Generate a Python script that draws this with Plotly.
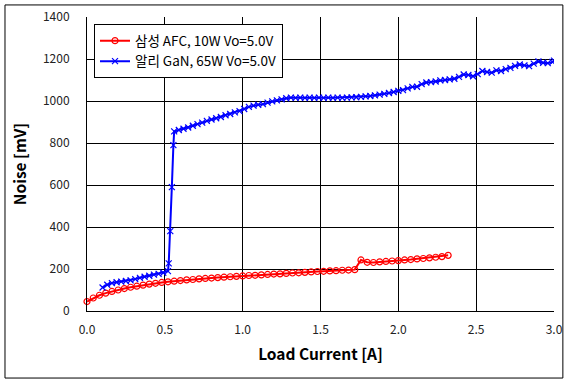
import plotly.graph_objects as go

red_name = "삼성 AFC, 10W Vo=5.0V"
blue_name = "알리 GaN, 65W Vo=5.0V"

red_x = [round(0.04 * i, 2) for i in range(59)]
red_y = [45, 62, 75, 85, 93, 100, 107, 113, 118, 123, 128, 132, 136, 139, 142,
         145, 148, 150, 153, 155, 157, 159, 161, 163, 165, 167, 169, 170, 172, 174,
         176, 177, 179, 181, 182, 184, 186, 188, 189, 191, 192, 194, 195, 197, 243,
         232, 231, 234, 236, 238, 240, 243, 245, 248, 250, 253, 256, 259, 265]

blue_pre_x = [round(0.10 + 0.03 * i, 2) for i in range(15)]
blue_pre_y = [112, 125, 133, 137, 140, 143, 146, 152, 158, 163, 168, 173, 177, 182, 190]
blue_jump_x = [0.525, 0.535, 0.545, 0.555]
blue_jump_y = [227, 380, 590, 790]
blue_post_x = [round(0.56 + 0.03 * i, 2) for i in range(82)] + [3.0]
blue_post_y = [855, 862, 868, 874, 882, 890, 897, 905, 912, 918, 924, 932, 938, 946, 952,
               962, 972, 978, 982, 985, 992, 998, 1003, 1008, 1013, 1016, 1015, 1016, 1015, 1016,
               1015, 1016, 1015, 1016, 1015, 1016, 1015, 1016, 1017, 1018, 1020, 1022, 1024, 1027, 1030,
               1034, 1038, 1043, 1048, 1052, 1060, 1067, 1068, 1080, 1088, 1090, 1093, 1098, 1100, 1103,
               1106, 1115, 1126, 1124, 1118, 1128, 1143, 1138, 1135, 1146, 1143, 1152, 1158, 1167, 1174,
               1170, 1166, 1178, 1188, 1182, 1180, 1186, 1192]

blue_x = blue_pre_x + blue_jump_x + blue_post_x
blue_y = blue_pre_y + blue_jump_y + blue_post_y

x_ticks = [0.0, 0.5, 1.0, 1.5, 2.0, 2.5, 3.0]
y_ticks = [0, 200, 400, 600, 800, 1000, 1200, 1400]

font_main = "Noto Sans CJK KR, Noto Sans, sans-serif"

fig = go.Figure()
fig.add_trace(go.Scatter(
    x=red_x, y=red_y, name=red_name, mode="lines+markers",
    line=dict(color="#ff0000", width=2),
    marker=dict(symbol="circle-open", size=6, color="#ff0000", line=dict(width=1.2)),
    cliponaxis=False,
))
fig.add_trace(go.Scatter(
    x=blue_x, y=blue_y, name=blue_name, mode="lines+markers",
    line=dict(color="#0000ff", width=2),
    marker=dict(symbol="x-thin-open", size=6, color="#0000ff", line=dict(width=1.2, color="#0000ff")),
))

fig.update_layout(
    width=570, height=382,
    margin=dict(l=87, r=16, t=17, b=71, autoexpand=False),
    paper_bgcolor="white", plot_bgcolor="white",
    font=dict(family=font_main, size=12, color="black"),
    showlegend=True,
    legend=dict(
        x=0.015, y=0.975, xanchor="left", yanchor="top",
        bgcolor="white", bordercolor="black", borderwidth=1,
        font=dict(size=13.5, family=font_main),
        tracegroupgap=0, itemwidth=30,
    ),
    xaxis=dict(
        range=[0, 3.0], tickvals=x_ticks, ticktext=["%.1f" % v for v in x_ticks],
        showgrid=True, gridcolor="black", gridwidth=1,
        showline=True, linecolor="black", linewidth=1, mirror=False,
        zeroline=False, ticks="", ticklabelstandoff=8, automargin=False,
        tickfont=dict(size=12, color="#222"),
        title=dict(text="<b>Load Current [A]</b>", font=dict(size=15.5), standoff=12),
    ),
    yaxis=dict(
        range=[0, 1400], tickvals=y_ticks,
        showgrid=True, gridcolor="black", gridwidth=1,
        showline=True, linecolor="black", linewidth=1,
        zeroline=False, ticks="", ticklabelstandoff=14, automargin=False,
        tickfont=dict(size=12, color="#222"),
        title=dict(text="<b>Noise [mV]</b>", font=dict(size=15.5), standoff=12),
    ),
    shapes=[dict(
        type="rect", xref="paper", yref="paper",
        x0=-0.1756, x1=1.019, y0=-0.228, y1=1.041,
        line=dict(color="black", width=1), fillcolor="rgba(0,0,0,0)",
    )],
)

fig.write_html("out.html", config={"displayModeBar": False},
               post_script="document.body.style.margin='0';document.body.style.overflow='hidden';")
